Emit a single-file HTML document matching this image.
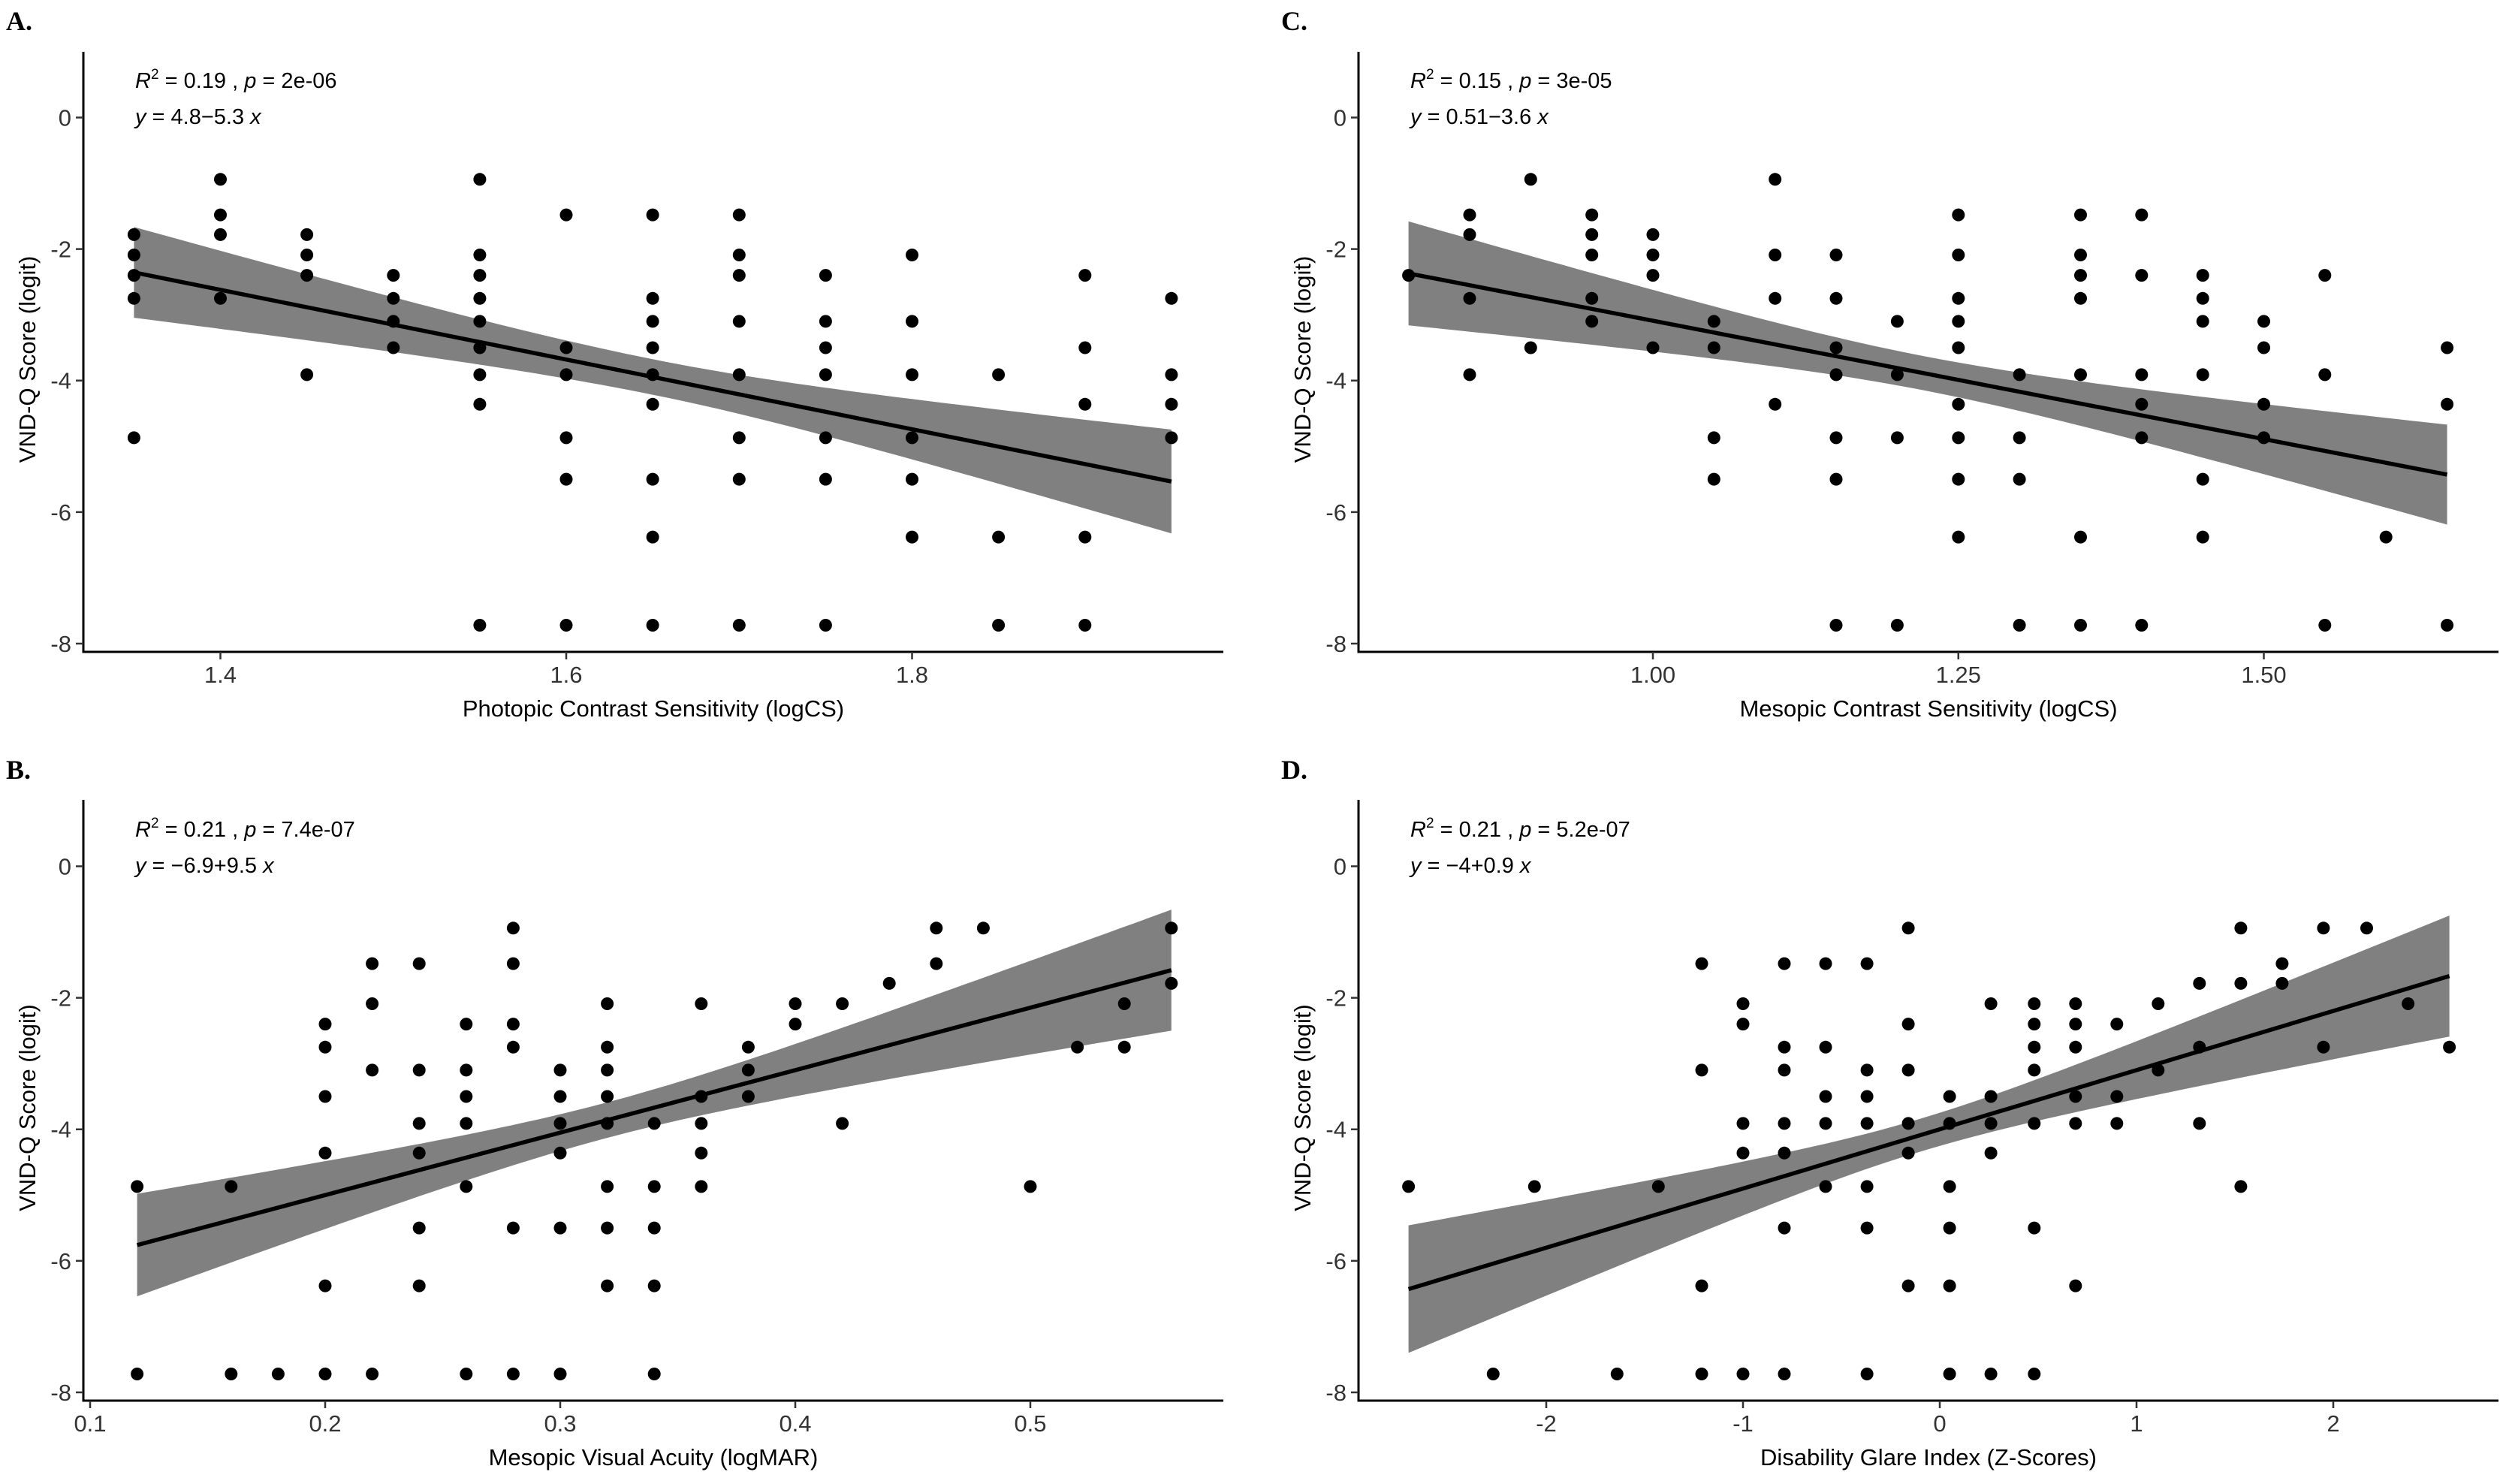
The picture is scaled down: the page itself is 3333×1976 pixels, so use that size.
<!DOCTYPE html>
<html><head><meta charset="utf-8">
<style>
html,body{margin:0;padding:0;background:#fff;}
svg{display:block;}
text{font-family:"Liberation Sans",Arial,sans-serif;}
</style></head>
<body>
<svg id="fig" xmlns="http://www.w3.org/2000/svg" width="3333" height="1976" viewBox="0 0 3333 1976"></svg>
<script>
// ---------------- DATA ----------------
// Panel A: Photopic Contrast Sensitivity
const aX = [1.35,1.35,1.35,1.35,1.35, 1.40,1.40,1.40,1.40, 1.45,1.45,1.45,1.45, 1.50,1.50,1.50,1.50,
  1.55,1.55,1.55,1.55,1.55,1.55,1.55,1.55,1.55, 1.60,1.60,1.60,1.60,1.60,1.60,
  1.65,1.65,1.65,1.65,1.65,1.65,1.65,1.65,1.65, 1.70,1.70,1.70,1.70,1.70,1.70,1.70,1.70,
  1.75,1.75,1.75,1.75,1.75,1.75,1.75, 1.80,1.80,1.80,1.80,1.80,1.80, 1.85,1.85,1.85,
  1.90,1.90,1.90,1.90,1.90, 1.95,1.95,1.95,1.95];
const aY = [-1.78,-2.09,-2.4,-2.75,-4.87, -0.94,-1.48,-1.78,-2.75, -1.78,-2.09,-2.4,-3.91, -2.4,-2.75,-3.1,-3.5,
  -0.94,-2.09,-2.4,-2.75,-3.1,-3.5,-3.91,-4.36,-7.72, -1.48,-3.5,-3.91,-4.87,-5.5,-7.72,
  -1.48,-2.75,-3.1,-3.5,-3.91,-4.36,-5.5,-6.38,-7.72, -1.48,-2.09,-2.4,-3.1,-3.91,-4.87,-5.5,-7.72,
  -2.4,-3.1,-3.5,-3.91,-4.87,-5.5,-7.72, -2.09,-3.1,-3.91,-4.87,-5.5,-6.38, -3.91,-6.38,-7.72,
  -2.4,-3.5,-4.36,-6.38,-7.72, -2.75,-3.91,-4.36,-4.87];
const aFit = [4.8, -5.3];
const aBandX = [1.35, 1.65, 1.95];
const aBandHalf = [0.69, 0.27, 0.79];
const aXTicks = [1.4, 1.6, 1.8];
const aXTickLabels = ["1.4","1.6","1.8"];

// Panel B: Mesopic Visual Acuity
const bX = [0.12,0.12, 0.16,0.16, 0.18, 0.20,0.20,0.20,0.20,0.20,0.20, 0.22,0.22,0.22,0.22,
  0.24,0.24,0.24,0.24,0.24,0.24, 0.26,0.26,0.26,0.26,0.26,0.26, 0.28,0.28,0.28,0.28,0.28,0.28,
  0.30,0.30,0.30,0.30,0.30,0.30, 0.32,0.32,0.32,0.32,0.32,0.32,0.32,0.32, 0.34,0.34,0.34,0.34,0.34,
  0.36,0.36,0.36,0.36,0.36, 0.38,0.38,0.38, 0.40,0.40, 0.42,0.42, 0.44, 0.46,0.46, 0.48, 0.50, 0.52,
  0.54,0.54, 0.56,0.56];
const bY = [-4.87,-7.72, -4.87,-7.72, -7.72, -2.4,-2.75,-3.5,-4.36,-6.38,-7.72, -1.48,-2.09,-3.1,-7.72,
  -1.48,-3.1,-3.91,-4.36,-5.5,-6.38, -2.4,-3.1,-3.5,-3.91,-4.87,-7.72, -0.94,-1.48,-2.4,-2.75,-5.5,-7.72,
  -3.1,-3.5,-3.91,-4.36,-5.5,-7.72, -2.09,-2.75,-3.1,-3.5,-3.91,-4.87,-5.5,-6.38, -3.91,-4.87,-5.5,-6.38,-7.72,
  -2.09,-3.5,-3.91,-4.36,-4.87, -2.75,-3.1,-3.5, -2.09,-2.4, -2.09,-3.91, -1.78, -0.94,-1.48, -0.94, -4.87, -2.75,
  -2.09,-2.75, -0.94,-1.78];
const bFit = [-6.9, 9.5];
const bBandX = [0.12, 0.32, 0.56];
const bBandHalf = [0.78, 0.27, 0.92];
const bXTicks = [0.1, 0.2, 0.3, 0.4, 0.5];
const bXTickLabels = ["0.1","0.2","0.3","0.4","0.5"];

// Panel C: Mesopic Contrast Sensitivity
const cX = [0.80, 0.85,0.85,0.85,0.85, 0.90,0.90, 0.95,0.95,0.95,0.95,0.95, 1.00,1.00,1.00,1.00,
  1.05,1.05,1.05,1.05, 1.10,1.10,1.10,1.10, 1.15,1.15,1.15,1.15,1.15,1.15,1.15, 1.20,1.20,1.20,1.20,
  1.25,1.25,1.25,1.25,1.25,1.25,1.25,1.25,1.25, 1.30,1.30,1.30,1.30, 1.35,1.35,1.35,1.35,1.35,1.35,1.35,
  1.40,1.40,1.40,1.40,1.40,1.40, 1.45,1.45,1.45,1.45,1.45,1.45, 1.50,1.50,1.50,1.50, 1.55,1.55,1.55,
  1.60, 1.65,1.65,1.65];
const cY = [-2.4, -1.48,-1.78,-2.75,-3.91, -0.94,-3.5, -1.48,-1.78,-2.09,-2.75,-3.1, -1.78,-2.09,-2.4,-3.5,
  -3.1,-3.5,-4.87,-5.5, -0.94,-2.09,-2.75,-4.36, -2.09,-2.75,-3.5,-3.91,-4.87,-5.5,-7.72, -3.1,-3.91,-4.87,-7.72,
  -1.48,-2.09,-2.75,-3.1,-3.5,-4.36,-4.87,-5.5,-6.38, -3.91,-4.87,-5.5,-7.72, -1.48,-2.09,-2.4,-2.75,-3.91,-6.38,-7.72,
  -1.48,-2.4,-3.91,-4.36,-4.87,-7.72, -2.4,-2.75,-3.1,-3.91,-5.5,-6.38, -3.1,-3.5,-4.36,-4.87, -2.4,-3.91,-7.72,
  -6.38, -3.5,-4.36,-7.72];
const cFit = [0.51, -3.6];
const cBandX = [0.80, 1.22, 1.65];
const cBandHalf = [0.79, 0.26, 0.76];
const cXTicks = [1.00, 1.25, 1.50];
const cXTickLabels = ["1.00","1.25","1.50"];

// Panel D: Disability Glare Index
const dX = [-2.70, -2.27, -2.06, -1.64, -1.43, -1.21,-1.21,-1.21,-1.21, -1.00,-1.00,-1.00,-1.00,-1.00,
  -0.79,-0.79,-0.79,-0.79,-0.79,-0.79,-0.79, -0.58,-0.58,-0.58,-0.58,-0.58,
  -0.37,-0.37,-0.37,-0.37,-0.37,-0.37,-0.37, -0.16,-0.16,-0.16,-0.16,-0.16,-0.16,
  0.05,0.05,0.05,0.05,0.05,0.05, 0.26,0.26,0.26,0.26,0.26, 0.48,0.48,0.48,0.48,0.48,0.48,0.48,
  0.69,0.69,0.69,0.69,0.69,0.69, 0.90,0.90,0.90, 1.11,1.11, 1.32,1.32,1.32, 1.53,1.53,1.53,
  1.74,1.74, 1.95,1.95, 2.17, 2.38, 2.59];
const dY = [-4.87, -7.72, -4.87, -7.72, -4.87, -1.48,-3.1,-6.38,-7.72, -2.09,-2.4,-3.91,-4.36,-7.72,
  -1.48,-2.75,-3.1,-3.91,-4.36,-5.5,-7.72, -1.48,-2.75,-3.5,-3.91,-4.87,
  -1.48,-3.1,-3.5,-3.91,-4.87,-5.5,-7.72, -0.94,-2.4,-3.1,-3.91,-4.36,-6.38,
  -3.5,-3.91,-4.87,-5.5,-6.38,-7.72, -2.09,-3.5,-3.91,-4.36,-7.72, -2.09,-2.4,-2.75,-3.1,-3.91,-5.5,-7.72,
  -2.09,-2.4,-2.75,-3.5,-3.91,-6.38, -2.4,-3.5,-3.91, -2.09,-3.1, -1.78,-2.75,-3.91, -0.94,-1.78,-4.87,
  -1.48,-1.78, -0.94,-2.75, -0.94, -2.09, -2.75];
const dFit = [-4, 0.9];
const dBandX = [-2.70, -0.1, 2.59];
const dBandHalf = [0.97, 0.25, 0.92];
const dXTicks = [-2, -1, 0, 1, 2];
const dXTickLabels = ["-2","-1","0","1","2"];

const yTicks = [0, -2, -4, -6, -8];
const yTickLabels = ["0","-2","-4","-6","-8"];

// ---------------- LAYOUT ----------------
const NS = "http://www.w3.org/2000/svg";
const svg = document.getElementById('fig');
function mk(tag, attrs, parent){
  const e = document.createElementNS(NS, tag);
  for (const k in attrs) e.setAttribute(k, attrs[k]);
  (parent||svg).appendChild(e);
  return e;
}

const panels = [
  {id:'a', letter:'A.', X:aX, Y:aY, fit:aFit, bx:aBandX, bh:aBandHalf, xt:aXTicks, xtl:aXTickLabels,
   title:'Photopic Contrast Sensitivity (logCS)', r2:'0.19', p:'2e-06', eq:' = 4.8\u22125.3 ',
   left:111, right:1629, top:69, bottom:868, y0:156.5, x0v:1.4, x0p:293.5, xs:2302.5, ox:0, oy:0},
  {id:'b', letter:'B.', X:bX, Y:bY, fit:bFit, bx:bBandX, bh:bBandHalf, xt:bXTicks, xtl:bXTickLabels,
   title:'Mesopic Visual Acuity (logMAR)', r2:'0.21', p:'7.4e-07', eq:' = \u22126.9+9.5 ',
   left:111, right:1629, top:1065, bottom:1865, y0:1153.5, x0v:0.1, x0p:120, xs:3130, ox:0, oy:997},
  {id:'c', letter:'C.', X:cX, Y:cY, fit:cFit, bx:cBandX, bh:cBandHalf, xt:cXTicks, xtl:cXTickLabels,
   title:'Mesopic Contrast Sensitivity (logCS)', r2:'0.15', p:'3e-05', eq:' = 0.51\u22123.6 ',
   left:1809, right:3327, top:69, bottom:868, y0:156.5, x0v:1.0, x0p:2201, xs:1627, ox:1698, oy:0},
  {id:'d', letter:'D.', X:dX, Y:dY, fit:dFit, bx:dBandX, bh:dBandHalf, xt:dXTicks, xtl:dXTickLabels,
   title:'Disability Glare Index (Z-Scores)', r2:'0.21', p:'5.2e-07', eq:' = \u22124+0.9 ',
   left:1809, right:3327, top:1065, bottom:1865, y0:1153.5, x0v:0, x0p:2583, xs:262, ox:1698, oy:997}
];
const YS = 87.56;

panels.forEach(P => {
  const g = mk('g', {});
  
  
  const sx = v => P.x0p + (v - P.x0v) * P.xs;
  const sy = v => P.y0 - v * YS;

  const lt = mk('text', {x: 8 + P.ox, y: 40 + P.oy, style:'font-family:"Liberation Serif",serif;font-weight:bold;font-size:36px', fill:'#000'}, g);
  lt.textContent = P.letter;
  
  

  const half = x => {
    const [x0, xc, x1] = P.bx, [h0, hc, h1] = P.bh;
    const xe = x < xc ? x0 : x1, he = x < xc ? h0 : h1;
    const k2 = (he*he - hc*hc) / ((xe - xc) * (xe - xc));
    return Math.sqrt(hc*hc + k2 * (x - xc) * (x - xc));
  };
  const fy = x => P.fit[0] + P.fit[1] * x;
  const N = 80, xa = P.bx[0], xb = P.bx[2];
  let up = [], lo = [];
  for (let i = 0; i <= N; i++) {
    const x = xa + (xb - xa) * i / N;
    up.push(sx(x).toFixed(1) + ',' + sy(fy(x) + half(x)).toFixed(1));
    lo.unshift(sx(x).toFixed(1) + ',' + sy(fy(x) - half(x)).toFixed(1));
  }
  const band = mk('polygon', {points: up.concat(lo).join(' '), fill:'#808080'}, g);
  
  

  const pg = mk('g', {fill:'#000'}, g);
  
  
  P.X.forEach((xv, i) => {
    const c = mk('circle', {cx: sx(xv).toFixed(1), cy: sy(P.Y[i]).toFixed(1), r: 8.5}, pg);
    
    
  });

  const rl = mk('line', {x1: sx(xa), y1: sy(fy(xa)), x2: sx(xb), y2: sy(fy(xb)), stroke:'#000', 'stroke-width':5.5}, g);
  
  

  const ya = mk('line', {x1: P.left, y1: P.top, x2: P.left, y2: P.bottom + 1.5, stroke:'#000', 'stroke-width':3}, g);
  
  
  const xaL = mk('line', {x1: P.left - 1.5, y1: P.bottom, x2: P.right, y2: P.bottom, stroke:'#000', 'stroke-width':3}, g);
  
  

  yTicks.forEach((v, i) => {
    const y = sy(v);
    mk('line', {x1: P.left - 10, y1: y, x2: P.left, y2: y, stroke:'#333', 'stroke-width':2.5}, g);
    const t = mk('text', {x: P.left - 16, y: y + 11, 'text-anchor':'end', 'font-size':'31', fill:'#333'}, g);
    t.textContent = yTickLabels[i];
    
    
  });
  P.xt.forEach((v, i) => {
    const x = sx(v);
    mk('line', {x1: x, y1: P.bottom, x2: x, y2: P.bottom + 10, stroke:'#333', 'stroke-width':2.5}, g);
    const t = mk('text', {x: x, y: P.bottom + 41, 'text-anchor':'middle', 'font-size':'31', fill:'#333'}, g);
    t.textContent = P.xtl[i];
    
    
  });

  const xt = mk('text', {x: (P.left + P.right) / 2, y: P.bottom + 86, 'text-anchor':'middle', 'font-size':'31', fill:'#000'}, g);
  xt.textContent = P.title;
  
  
  const cy = (P.top + P.bottom) / 2 + 10;
  const yt = mk('text', {x: 0, y: 0, 'text-anchor':'middle', 'font-size':'31', fill:'#000',
    transform: 'translate(' + (P.left - 64) + ',' + cy + ') rotate(-90)'}, g);
  yt.textContent = 'VND-Q Score (logit)';
  
  

  const a1 = mk('text', {x: P.left + 69, y: 117 + P.oy, 'font-size':'29', fill:'#000'}, g);
  a1.innerHTML = '<tspan font-style="italic">R</tspan><tspan dy="-12" font-size="19">2</tspan><tspan dy="12"> = ' + P.r2 + ' , </tspan><tspan font-style="italic">p</tspan><tspan> = ' + P.p + '</tspan>';
  
  
  const a2 = mk('text', {x: P.left + 69, y: 165 + P.oy, 'font-size':'29', fill:'#000'}, g);
  a2.innerHTML = '<tspan font-style="italic">y</tspan><tspan>' + P.eq + '</tspan><tspan font-style="italic">x</tspan>';
  
  
});
</script>
</body></html>
